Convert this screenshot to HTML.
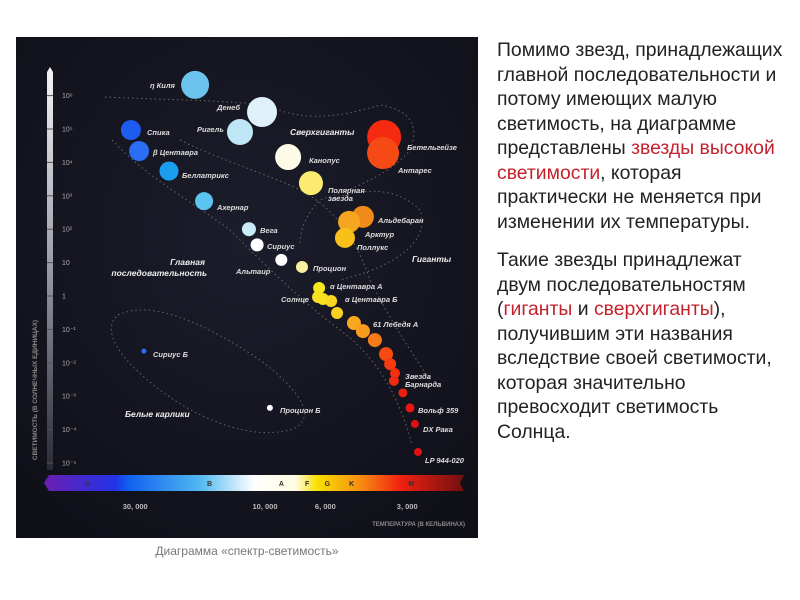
<!DOCTYPE html>
<html><head><meta charset="utf-8">
<style>
body{margin:0;width:800px;height:600px;background:#fff;position:relative;overflow:hidden;font-family:"Liberation Sans",sans-serif}
#panel{position:absolute;left:16px;top:37px;width:462px;height:501px}
#txt{position:absolute;left:497px;top:38px;width:303px;font-size:19.4px;line-height:24.5px;color:#222;white-space:nowrap}
#txt p{margin:0 0 14px 0}
.r{color:#c3222c}
#cap{position:absolute;left:0;width:494px;text-align:center;top:544px;font-size:12px;color:#777}
</style></head><body>
<svg id="panel" width="462" height="501" viewBox="16 37 462 501" font-family="Liberation Sans, sans-serif">
<defs>
<radialGradient id="bg" cx="0.5" cy="0.4" r="0.8"><stop offset="0" stop-color="#1c1d2b"/><stop offset="1" stop-color="#0e0e16"/></radialGradient>
<linearGradient id="ax" x1="0" y1="0" x2="0" y2="1"><stop offset="0" stop-color="#f4f4f8"/><stop offset="0.5" stop-color="#9a9aa4"/><stop offset="1" stop-color="#2a2a34"/></linearGradient>
<linearGradient id="spec" x1="44" x2="464" gradientUnits="userSpaceOnUse">
<stop offset="0" stop-color="#6a1fb0"/><stop offset="0.17" stop-color="#2233e8"/><stop offset="0.2" stop-color="#1060f0"/><stop offset="0.37" stop-color="#50b8f0"/><stop offset="0.5" stop-color="#ffffff"/><stop offset="0.6" stop-color="#fffbe0"/><stop offset="0.65" stop-color="#f8e000"/><stop offset="0.75" stop-color="#f89010"/><stop offset="0.85" stop-color="#f02010"/><stop offset="1" stop-color="#701010"/></linearGradient>
</defs>
<rect x="16" y="37" width="462" height="501" fill="url(#bg)"/>
<path d="M47 72 L50 67 L53 72 L53 470 L47 470 Z" fill="url(#ax)"/>
<g id="yt" fill="#aaa" font-size="7"></g>
<text transform="translate(37,390) rotate(-90)" text-anchor="middle" fill="#888" font-size="6.5" font-weight="bold">СВЕТИМОСТЬ (В СОЛНЕЧНЫХ ЕДИНИЦАХ)</text>
<g fill="none" stroke="#666" stroke-width="1" stroke-dasharray="1.5 3">
<path d="M105 97 C170 100 220 100 265 105 C300 120 330 120 380 105 C410 110 420 125 410 150 C390 175 350 190 320 200 C300 220 300 240 300 245"/>
<path d="M112 140 C150 180 190 200 230 230 C260 260 300 300 340 330 C380 360 400 400 412 445 M180 140 C220 160 270 175 300 190 C340 210 360 250 370 280 C390 320 410 350 430 380"/>
<path d="M330 200 C370 185 400 190 420 210 C430 240 400 265 340 280"/>
<path d="M118 315 C150 300 200 320 260 360 C300 390 320 420 290 430 C250 440 200 420 160 390 C120 360 100 330 118 315Z"/>
</g>
<g id="stars"></g>
<g fill="#ddd" font-size="7.5" font-style="italic" font-weight="bold">
<text x="150" y="88">η Киля</text><text x="217" y="110">Денеб</text><text x="197" y="132">Ригель</text>
<text x="147" y="135">Спика</text><text x="153" y="155">β Центавра</text><text x="182" y="178">Беллатрикс</text>
<text x="217" y="210">Ахернар</text><text x="260" y="233">Вега</text><text x="267" y="249">Сириус</text>
<text x="236" y="274">Альтаир</text><text x="313" y="271">Процион</text><text x="309" y="163">Канопус</text>
<text x="328" y="193">Полярная</text><text x="328" y="201">звезда</text><text x="407" y="150">Бетельгейзе</text>
<text x="398" y="173">Антарес</text><text x="378" y="223">Альдебаран</text><text x="365" y="237">Арктур</text>
<text x="357" y="250">Поллукс</text><text x="330" y="289">α Центавра А</text><text x="281" y="302">Солнце</text>
<text x="345" y="302">α Центавра Б</text><text x="373" y="327">61 Лебедя А</text><text x="405" y="379">Звезда</text>
<text x="405" y="387">Барнарда</text><text x="418" y="413">Вольф 359</text><text x="423" y="432">DX Рака</text>
<text x="425" y="463">LP 944-020</text><text x="153" y="357">Сириус Б</text><text x="280" y="413">Процион Б</text>
</g>
<g fill="#eee" font-size="8.5" font-style="italic" font-weight="bold">
<text x="290" y="135">Сверхгиганты</text><text x="412" y="262">Гиганты</text>
<text x="205" y="265" text-anchor="end">Главная</text><text x="207" y="276" text-anchor="end">последовательность</text>
<text x="125" y="417">Белые карлики</text>
</g>
<path d="M44 483 L49 475 L464 475 L460 483 L464 491 L49 491 Z" fill="url(#spec)"/>
<g fill="#333" font-size="7" font-weight="bold" text-anchor="middle" id="cls"></g>
<g fill="#bbb" font-size="7.5" font-weight="bold" text-anchor="middle" id="xt"></g>
<text x="465" y="526" text-anchor="end" fill="#888" font-size="6" font-weight="bold">ТЕМПЕРАТУРА (В КЕЛЬВИНАХ)</text>
</svg>
<div id="cap">Диаграмма «спектр-светимость»</div>
<div id="txt">
<p>Помимо звезд, принадлежащих<br>главной последовательности и<br>потому имеющих малую<br>светимость, на диаграмме<br>представлены <span class="r">звезды высокой<br>светимости</span>, которая<br>практически не меняется при<br>изменении их температуры.</p>
<p>Такие звезды принадлежат<br>двум последовательностям<br>(<span class="r">гиганты</span> и <span class="r">сверхгиганты</span>),<br>получившим эти названия<br>вследствие своей светимости,<br>которая значительно<br>превосходит светимость<br>Солнца.</p>
</div>
<script>
// star data: log10 temperature (K), log10 luminosity (solar), radius, colour
const starNames=["eta-carinae","deneb","rigel","spica","beta-centauri","bellatrix","achernar","vega","sirius","altair","procyon","canopus","polaris","betelgeuse","antares","aldebaran","arcturus","pollux","alpha-cen-a","sun","ms-1","ms-2","ms-3","61-cygni-a","ms-4","ms-5","ms-6","ms-7","ms-8","barnard","ms-9","wolf-359","dx-cancri","lp-944-020","sirius-b","procyon-b"];
const logTemp=[4.257,4.011,4.092,4.493,4.463,4.353,4.224,4.059,4.029,3.94,3.864,3.915,3.831,3.562,3.566,3.640,3.691,3.706,3.801,3.805,3.787,3.757,3.735,3.673,3.640,3.596,3.555,3.540,3.522,3.526,3.493,3.467,3.449,3.4375,4.445,3.982];
const logLum=[6.32,5.51,4.91,4.97,4.34,3.74,2.84,2.0,1.53,1.08,0.87,4.16,3.38,4.76,4.28,2.37,2.22,1.74,0.24,-0.03,-0.09,-0.15,-0.51,-0.81,-1.05,-1.32,-1.74,-2.04,-2.31,-2.54,-2.90,-3.35,-3.83,-4.67,-1.65,-3.35];
const radii=[14,15,13,10,10,9.5,9,7,6.5,6,6,13,12,17,16,11,11,10,6,6,6,6,6,7,7,7,7,6,5,5,4.5,4.5,4,4,2.5,3];
const colors=["#6cc4ee","#dff0f8","#bfe6f5","#1e5cf0","#2a6ef5","#1a9ff0","#5cc4f0","#c8ecf8","#ffffff","#ffffff","#f8f0a0","#fdfbe8","#fbeb70","#f52a10","#f54a15","#f08a1a","#f5a520","#f8c018","#f8e820","#f8e020","#f8e020","#f8d820","#f8d020","#f8a820","#f89c20","#f57a18","#f54a10","#f53a10","#f53010","#f02a10","#e82010","#e81810","#e01010","#e01010","#2a6ef5","#ffffff"];
const yTickExp=[6,5,4,3,2,1,0,-1,-2,-3,-4,-5];
const yTickLabels=["10⁶","10⁵","10⁴","10³","10²","10","1","10⁻¹","10⁻²","10⁻³","10⁻⁴","10⁻⁵"];
const xTickTemps=[30000,10000,6000,3000];
const xTickLabels=["30, 000","10, 000","6, 000","3, 000"];
const classNames=["O","B","A","F","G","K","M"];
const classTemps=[45000,16000,8700,7000,5900,4800,2900];
const NS="http://www.w3.org/2000/svg";
function xS(lt){return 265+(4-lt)*272;}
function yS(ll){return 296-ll*33.4;}
const sg=document.getElementById('stars');
for(let i=0;i<logTemp.length;i++){
  const c=document.createElementNS(NS,'circle');
  c.setAttribute('cx',xS(logTemp[i]));c.setAttribute('cy',yS(logLum[i]));
  c.setAttribute('r',radii[i]);c.setAttribute('fill',colors[i]);
  
  
  sg.appendChild(c);
}
const yt=document.getElementById('yt');
for(let i=0;i<yTickExp.length;i++){
  const y=yS(yTickExp[i]);
  const l=document.createElementNS(NS,'line');
  l.setAttribute('x1',47);l.setAttribute('x2',53);l.setAttribute('y1',y);l.setAttribute('y2',y);l.setAttribute('stroke','#555');
  
  
  yt.appendChild(l);
  const t=document.createElementNS(NS,'text');
  t.setAttribute('x',62);t.setAttribute('y',y+2.5);t.textContent=yTickLabels[i];
  
  
  yt.appendChild(t);
}
const xt=document.getElementById('xt');
for(let i=0;i<xTickTemps.length;i++){
  const t=document.createElementNS(NS,'text');
  t.setAttribute('x',xS(Math.log10(xTickTemps[i])));t.setAttribute('y',509);t.textContent=xTickLabels[i];
  
  
  xt.appendChild(t);
}
const cl=document.getElementById('cls');
for(let i=0;i<classNames.length;i++){
  const t=document.createElementNS(NS,'text');
  t.setAttribute('x',xS(Math.log10(classTemps[i])));t.setAttribute('y',486);t.textContent=classNames[i];
  
  
  cl.appendChild(t);
}
</script>
</body></html>
